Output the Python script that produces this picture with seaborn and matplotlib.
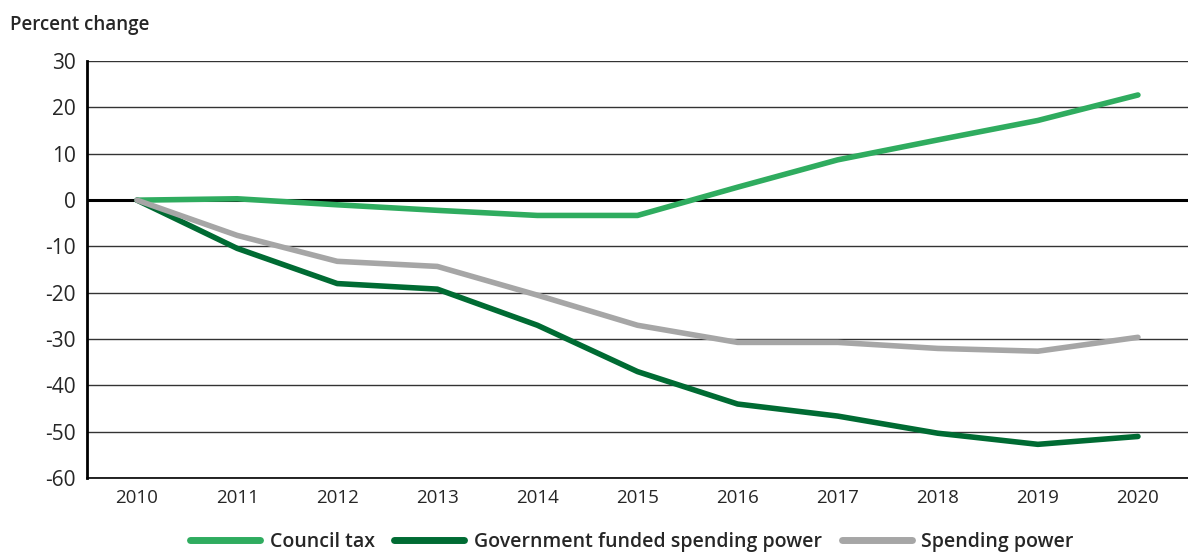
import pandas as pd
import numpy as np
import matplotlib
matplotlib.use("Agg")
import matplotlib.pyplot as plt
import seaborn as sns

sns.set_style("white")
plt.rcParams["font.family"] = ["Open Sans", "DejaVu Sans"]
plt.rcParams["axes.unicode_minus"] = False

years = [2010, 2011, 2012, 2013, 2014, 2015, 2016, 2017, 2018, 2019, 2020]
council_tax = [0, 0.3, -1.0, -2.2, -3.3, -3.3, 2.8, 8.7, 13.0, 17.2, 22.7]
gov_funded = [0, -10.4, -18.0, -19.2, -27.0, -37.0, -44.0, -46.6, -50.3, -52.7, -51.0]
spending_power = [0, -7.6, -13.2, -14.3, -20.5, -27.0, -30.7, -30.7, -32.0, -32.6, -29.6]

series_names = ["Council tax", "Government funded spending power", "Spending power"]
colors = ["#2fac5f", "#006b33", "#a6a6a6"]

df = pd.DataFrame({
    "year": years * 3,
    "value": council_tax + gov_funded + spending_power,
    "series": np.repeat(series_names, len(years)),
})

fig = plt.figure(figsize=(11.88, 5.56), dpi=100)
ax = fig.add_axes([0.0732, 0.140, 0.9268, 0.750])

ax.set_yticks(range(-60, 31, 10))
ax.grid(axis="y", color="#333333", linewidth=1.0)
ax.set_axisbelow(True)
ax.axhline(0, color="black", linewidth=2.2, zorder=1)

sns.lineplot(data=df, x="year", y="value", hue="series", hue_order=series_names,
             palette=colors, linewidth=4, ax=ax, legend=False,
             solid_capstyle="round", zorder=3)

ax.set_xlim(2009.5, 2020.5)
ax.set_ylim(-60, 30)
ax.set_xticks(years)
ax.set_xticklabels([str(y) for y in years], fontsize=13.5)
ax.tick_params(axis="y", labelsize=15, length=0, pad=8)
ax.tick_params(axis="x", length=0, pad=8)
ax.set_xlabel("")
ax.set_ylabel("")

for s in ["top", "right"]:
    ax.spines[s].set_visible(False)
ax.spines["left"].set_color("black")
ax.spines["left"].set_linewidth(2)
ax.spines["bottom"].set_color("black")
ax.spines["bottom"].set_linewidth(1.2)

fig.text(0.0085, 0.955, "Percent change", fontsize=13.5, fontweight="semibold", va="center")

handles = [plt.Line2D([0], [0], color=c, linewidth=5, solid_capstyle="round") for c in colors]
fig.legend(handles, series_names, loc="center", bbox_to_anchor=(0.532, 0.026),
           ncol=3, frameon=False, handlelength=3.6, columnspacing=1.0,
           handletextpad=0.5, borderpad=0.1, prop={"size": 14, "weight": "semibold"})

fig.savefig("out.png", dpi=100)
